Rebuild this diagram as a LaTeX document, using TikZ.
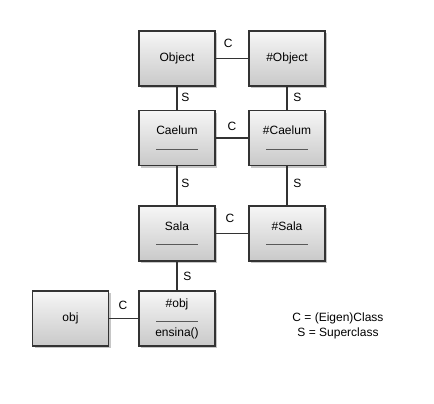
\documentclass[tikz,border=0pt]{standalone}
\usepackage{fontspec}
\setmainfont{Liberation Sans}
\usetikzlibrary{shadows}
\definecolor{boxtop}{HTML}{F6F6F6}
\definecolor{boxbot}{HTML}{C9C9C9}
\definecolor{edge}{HTML}{333333}
\newcommand{\sep}{\\[1pt]\textcolor{black!65}{\rule{42pt}{0.9pt}}}
\begin{document}
\begin{tikzpicture}[x=1pt,y=-1pt,font=\fontsize{12}{14}\selectfont,
  cls/.style={draw=edge, line width=1.9pt, minimum width=76pt, minimum height=55pt,
    top color=boxtop, bottom color=boxbot, align=center,
    drop shadow={shadow xshift=2pt, shadow yshift=-2pt, fill=gray, opacity=0.45}},
  link/.style={draw=edge, line width=1.9pt}]
\useasboundingbox (0,0) rectangle (434,404);
\node[cls](object) at (177,58.5){Object};
\node[cls](mobject) at (287,58.5){\#Object};
\node[cls](caelum) at (177,138){Caelum\sep};
\node[cls](mcaelum) at (287,138){\#Caelum\sep};
\node[cls](sala) at (177,233.5){Sala\sep};
\node[cls](msala) at (287,233.5){\#Sala\sep};
\node[cls](obj) at (70.5,318.5){obj};
\node[cls](mobj) at (177,318.5){\#obj\sep\\ensina()};
\draw[link] (object) -- (mobject) node [pos=.38,above=7pt]{C};
\draw[link] (caelum) -- (mcaelum) node [midway,above=3pt]{C};
\draw[link] (sala) -- (msala) node [pos=.44,above=7pt]{C};
\draw[link] (obj) -- (mobj) node [pos=.47,above=5pt]{C};
\draw[link] (object) -- (caelum) node [pos=.44,right]{S};
\draw[link] (mobject) -- (mcaelum) node [pos=.44,right=2pt]{S};
\draw[link] (caelum) -- (sala) node [pos=.44,right]{S};
\draw[link] (mcaelum) -- (msala) node [pos=.44,right=2pt]{S};
\draw[link] (sala) -- (mobj) node [midway,right=2pt]{S};
\node[align=center](legend) at (338,325.5){C = (Eigen)Class\\[1pt]S = Superclass};
\end{tikzpicture}
\end{document}
